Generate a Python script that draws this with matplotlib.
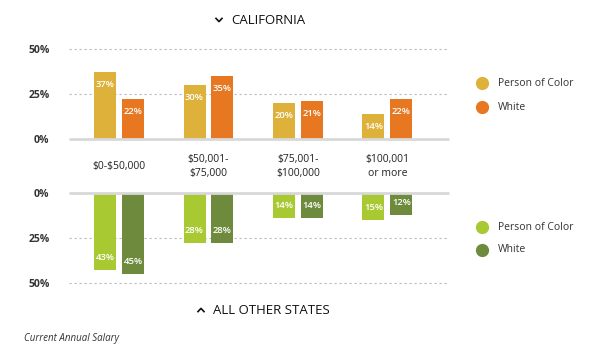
import matplotlib.pyplot as plt
from matplotlib.lines import Line2D
import numpy as np

categories = ['\\$0-\\$50,000', '\\$50,001-\n\\$75,000', '\\$75,001-\n\\$100,000', '\\$100,001\nor more']
ca_poc = [37, 30, 20, 14]
ca_white = [22, 35, 21, 22]
other_poc = [43, 28, 14, 15]
other_white = [45, 28, 14, 12]
yticks = [0, 25, 50]

plt.rcParams['font.family'] = ['Open Sans', 'DejaVu Sans']

fig = plt.figure(figsize=(5.96, 3.53), dpi=100)
W, H = 596, 353

def px_axes(x0, x1, ytop, ybot):
    return fig.add_axes([x0 / W, 1 - ybot / H, (x1 - x0) / W, (ybot - ytop) / H])

ax_top = px_axes(69, 449, 49, 139)
ax_bot = px_axes(69, 449, 193, 283)

x = np.arange(len(categories))
bw = 0.246
off = 0.156

def style(ax, invert):
    ax.set_xlim(-0.56, 3.69)
    ax.set_ylim(0, 50)
    if invert:
        ax.invert_yaxis()
    for s in ax.spines.values():
        s.set_visible(False)
    ax.set_xticks([])
    ax.set_yticks(yticks)
    ax.set_yticklabels([f'{t}%' for t in yticks], fontsize=7.5, fontweight='bold', color='#333333')
    ax.tick_params(axis='y', length=0, pad=14)
    for t in yticks[1:]:
        ax.axhline(t, color='#bbbbbb', lw=0.8, ls=(0, (2, 2.5)), zorder=0, clip_on=False)
    ax.axhline(0, color='#d8d8d8', lw=2, zorder=3, clip_on=False, solid_capstyle='butt')

def bars(ax, vals, xs, color, sign):
    b = ax.bar(xs, vals, width=bw, color=color, zorder=2)
    for rect, v in zip(b, vals):
        ax.annotate(f'{v}%', (rect.get_x() + rect.get_width() / 2, v),
                    xytext=(0, -9 * sign), textcoords='offset points',
                    ha='center', va='center', color='white', fontsize=6.8, fontweight='semibold')

style(ax_top, False)
style(ax_bot, True)
bars(ax_top, ca_poc, x - off, '#DDB13A', 1)
bars(ax_top, ca_white, x + off, '#E87722', 1)
bars(ax_bot, other_poc, x - off, '#A9C932', -1)
bars(ax_bot, other_white, x + off, '#6E8B3D', -1)

# category labels between the two panels
for i, c in enumerate(categories):
    ax_top.annotate(c, (i, 0), xytext=(0, -20), textcoords='offset points',
                    ha='center', va='center', fontsize=7.5, color='#222222', linespacing=1.35)

# section titles with small chevrons
def chevron(cx, cy, up):
    d = -1.6 if up else 1.6
    xs = [(cx - 3) / W, cx / W, (cx + 3) / W]
    ys = [1 - (cy - d) / H, 1 - (cy + d) / H, 1 - (cy - d) / H]
    fig.add_artist(Line2D(xs, ys, color='#111111', lw=1.2, transform=fig.transFigure))

chevron(219, 20, False)
fig.text(231 / W, 1 - 20 / H, 'CALIFORNIA', ha='left', va='center', fontsize=9.5, fontweight='medium', color='#111111')
chevron(201, 310, True)
fig.text(213 / W, 1 - 310 / H, 'ALL OTHER STATES', ha='left', va='center', fontsize=9.5, fontweight='medium', color='#111111')
fig.text(24 / W, 1 - 338 / H, 'Current Annual Salary', ha='left', va='center', fontsize=7, style='italic', color='#333333')

# legends
legend_items = [(83, '#DDB13A', 'Person of Color'), (107, '#E87722', 'White'),
                (227, '#A9C932', 'Person of Color'), (250, '#6E8B3D', 'White')]
for y, col, lab in legend_items:
    fig.add_artist(Line2D([482 / W], [1 - y / H], marker='o', markersize=8.5, color=col,
                          linestyle='none', transform=fig.transFigure))
    fig.text(498 / W, 1 - y / H, lab, ha='left', va='center', fontsize=7.5, color='#333333')

fig.savefig('out.png', dpi=100)
